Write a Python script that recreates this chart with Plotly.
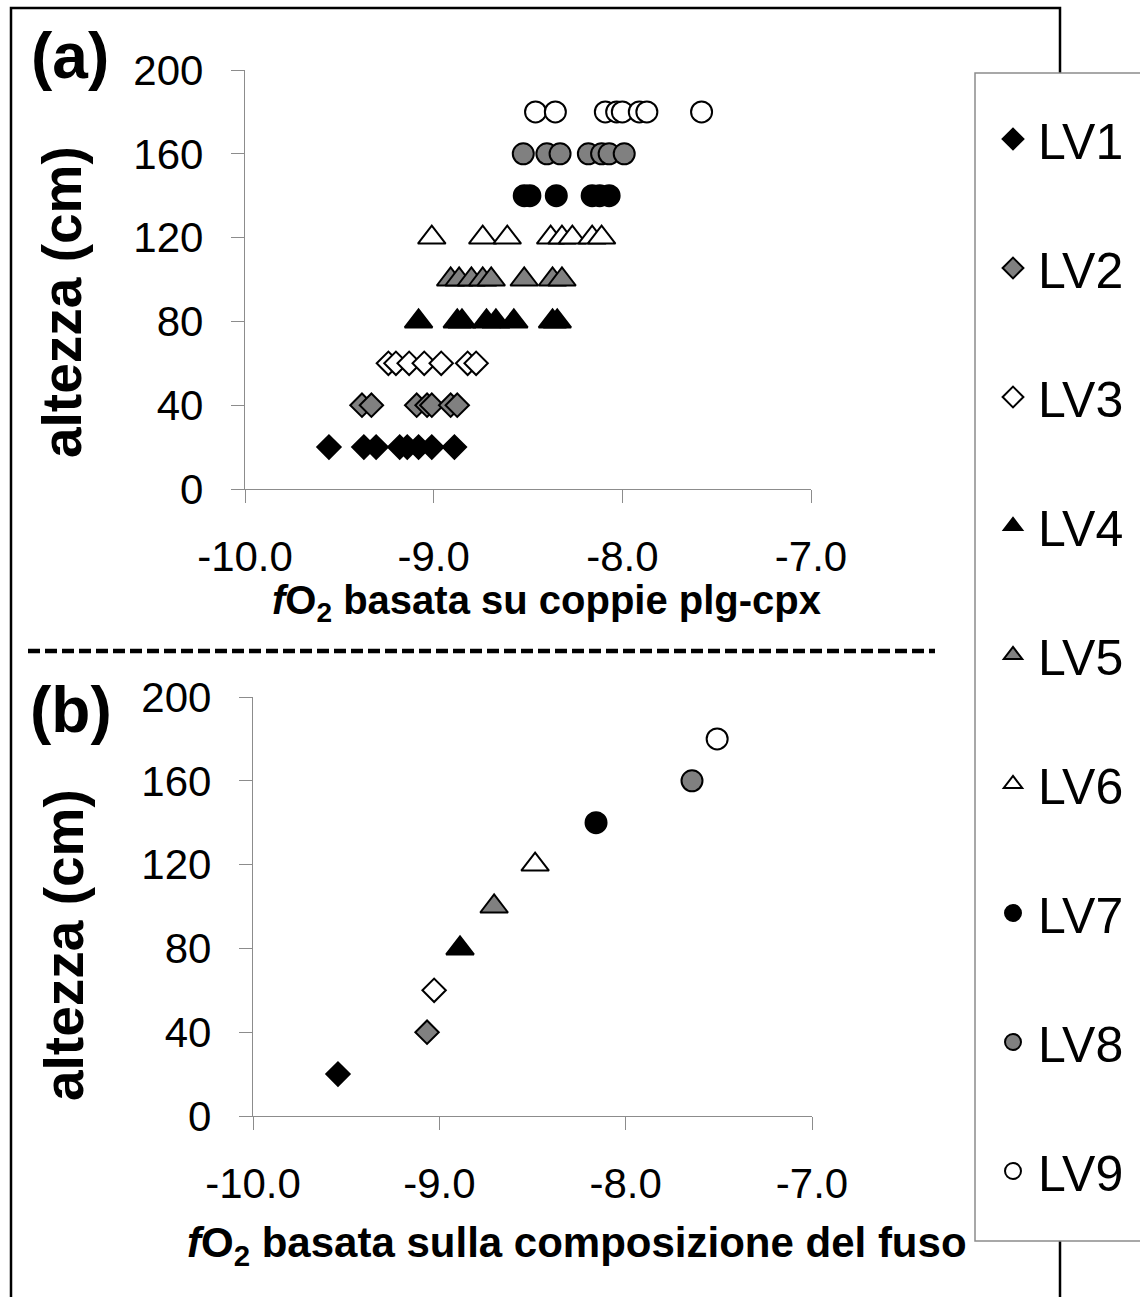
import plotly.graph_objects as go

W, H = 1140, 1297

series_names = ["LV1", "LV2", "LV3", "LV4", "LV5", "LV6", "LV7", "LV8", "LV9"]
heights = [20, 40, 60, 80, 100, 120, 140, 160, 180]

# panel (a): fO2 from plg-cpx pairs
lv1_a = [-9.555, -9.37, -9.305, -9.18, -9.14, -9.08, -9.01, -8.89]
lv2_a = [-9.38, -9.33, -9.09, -9.035, -9.01, -8.91, -8.875]
lv3_a = [-9.24, -9.20, -9.13, -9.05, -8.96, -8.82, -8.775]
lv4_a = [-9.08, -8.875, -8.85, -8.72, -8.67, -8.575, -8.37, -8.345]
lv5_a = [-8.91, -8.865, -8.80, -8.74, -8.695, -8.52, -8.37, -8.32]
lv6_a = [-9.01, -8.74, -8.61, -8.38, -8.32, -8.265, -8.16, -8.11]
lv7_a = [-8.52, -8.49, -8.35, -8.16, -8.12, -8.07]
lv8_a = [-8.525, -8.40, -8.33, -8.18, -8.11, -8.07, -7.99]
lv9_a = [-8.46, -8.355, -8.09, -8.03, -8.00, -7.91, -7.87, -7.58]
panel_a = [lv1_a, lv2_a, lv3_a, lv4_a, lv5_a, lv6_a, lv7_a, lv8_a, lv9_a]

# panel (b): fO2 from melt composition
panel_b = [-9.544, -9.066, -9.028, -8.889, -8.706, -8.486, -8.159, -7.644, -7.509]

x_ticks = [-10, -9, -8, -7]
x_tick_labels = ["-10.0", "-9.0", "-8.0", "-7.0"]
y_ticks = [0, 40, 80, 120, 160, 200]

symbols = ["diamond"] * 3 + ["triangle-up"] * 3 + ["circle"] * 3
fills = ["#000000", "#808080", "#ffffff"] * 3
sizes = {"diamond": 18, "triangle-up": 24, "circle": 21}

FONT = "Liberation Sans, Arial, sans-serif"

fig = go.Figure()
for i, name in enumerate(series_names):
    sym = symbols[i]
    mk = dict(symbol=sym, size=sizes[sym], color=fills[i],
              line=dict(color="#000000", width=2))
    fig.add_trace(go.Scatter(
        x=panel_a[i], y=[heights[i]] * len(panel_a[i]), mode="markers",
        name=name, legendgroup=name, marker=mk, xaxis="x", yaxis="y",
        cliponaxis=False))
for i, name in enumerate(series_names):
    sym = symbols[i]
    mk = dict(symbol=sym, size=sizes[sym], color=fills[i],
              line=dict(color="#000000", width=2))
    fig.add_trace(go.Scatter(
        x=[panel_b[i]], y=[heights[i]], mode="markers",
        name=name, legendgroup=name, showlegend=False, marker=mk,
        xaxis="x2", yaxis="y2", cliponaxis=False))


def px_x(p):
    return p / W


def px_y(p):
    return 1 - p / H


axis_common = dict(showline=True, linecolor="#8c8c8c", linewidth=1.3,
                   ticks="outside", ticklen=13, tickcolor="#8c8c8c",
                   tickwidth=1.3, showgrid=False, zeroline=False,
                   automargin=False,
                   tickfont=dict(family=FONT, size=42, color="#000000"))

fig.update_layout(
    width=W, height=H,
    margin=dict(l=0, r=0, t=0, b=0, autoexpand=False),
    paper_bgcolor="white", plot_bgcolor="white",
    showlegend=True,
    xaxis=dict(domain=[px_x(245), px_x(811)], range=[-10, -7],
               tickvals=x_ticks, ticktext=x_tick_labels, anchor="y",
               ticklabelstandoff=17, **axis_common),
    yaxis=dict(domain=[px_y(489), px_y(70)], range=[0, 200],
               tickvals=y_ticks, anchor="x", ticklabelstandoff=19,
               **axis_common),
    xaxis2=dict(domain=[px_x(253), px_x(812)], range=[-10, -7],
                tickvals=x_ticks, ticktext=x_tick_labels, anchor="y2",
                ticklabelstandoff=17, **axis_common),
    yaxis2=dict(domain=[px_y(1116), px_y(697)], range=[0, 200],
                tickvals=y_ticks, anchor="x2", ticklabelstandoff=19,
                **axis_common),
    legend=dict(xref="container", yref="container",
                x=988 / W, xanchor="left", y=px_y(100), yanchor="top",
                font=dict(family=FONT, size=50, color="#000000"),
                bgcolor="rgba(0,0,0,0)", borderwidth=0, itemwidth=40,
                tracegroupgap=61, itemclick=False, maxheight=1250),
)

shapes = [
    dict(type="rect", xref="paper", yref="paper",
         x0=px_x(11), x1=px_x(1060), y0=px_y(1330), y1=px_y(8),
         line=dict(color="#000000", width=2.5), fillcolor="rgba(0,0,0,0)",
         layer="above"),
    dict(type="rect", xref="paper", yref="paper",
         x0=px_x(975), x1=px_x(1200), y0=px_y(1241), y1=px_y(73),
         line=dict(color="#8c8c8c", width=1.5), fillcolor="white",
         layer="above"),
    dict(type="line", xref="paper", yref="paper",
         x0=px_x(28), x1=px_x(935), y0=px_y(651), y1=px_y(651),
         line=dict(color="#000000", width=4.5, dash="12px,5px"),
         layer="above"),
]
fig.update_layout(shapes=shapes)

ann = []
ann.append(dict(text="<b>(a)</b>", x=px_x(70), y=px_y(56)))
ann.append(dict(text="<b>(b)</b>", x=px_x(71), y=px_y(710)))
for a in ann:
    a.update(xref="paper", yref="paper", showarrow=False,
             xanchor="center", yanchor="middle",
             font=dict(family=FONT, size=64, color="#000000"))
ytitles = [
    dict(text="<b>altezza (cm)</b>", x=px_x(62), y=px_y(302)),
    dict(text="<b>altezza (cm)</b>", x=px_x(64), y=px_y(945)),
]
for a in ytitles:
    a.update(xref="paper", yref="paper", showarrow=False, textangle=-90,
             xanchor="center", yanchor="middle",
             font=dict(family=FONT, size=55, color="#000000"))
xtitles = [
    dict(text="<b><i>f</i>O<sub>2</sub> basata su coppie plg-cpx</b>",
         x=px_x(546), y=px_y(603), size=40),
    dict(text="<b><i>f</i>O<sub>2</sub> basata sulla composizione del fuso</b>",
         x=px_x(577), y=px_y(1245), size=42),
]
for a in xtitles:
    s = a.pop("size")
    a.update(xref="paper", yref="paper", showarrow=False,
             xanchor="center", yanchor="middle",
             font=dict(family=FONT, size=s, color="#000000"))
fig.update_layout(annotations=ann + ytitles + xtitles)

fig.write_html("out.html")
